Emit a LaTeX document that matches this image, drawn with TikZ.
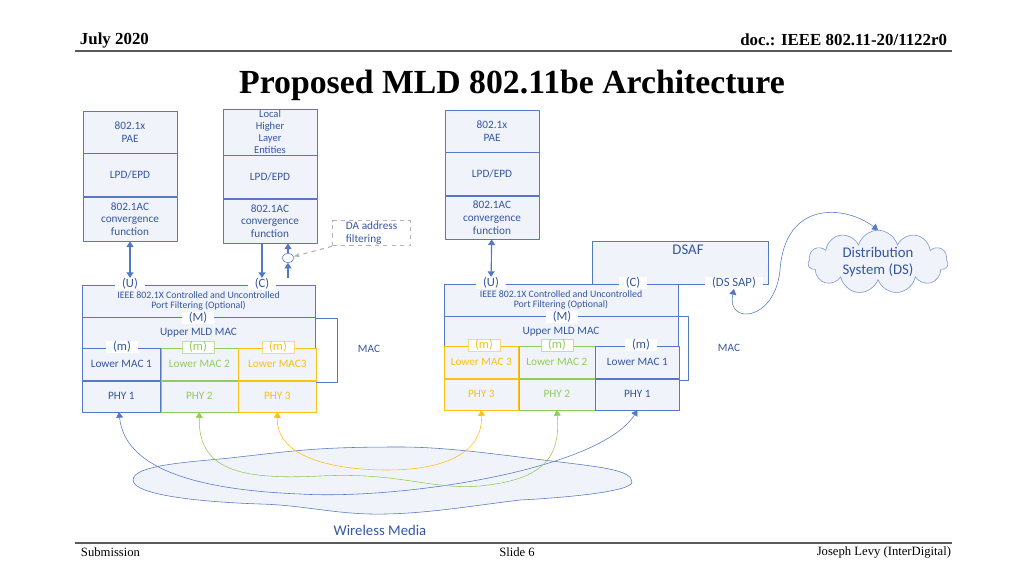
\documentclass[tikz,border=0pt]{standalone}
\usepackage{fontspec}
\setmainfont{Liberation Serif}
\newfontfamily\diag{Carlito}
\usetikzlibrary{arrows.meta,shapes.symbols,shapes.geometric,positioning}
\definecolor{mldblue}{RGB}{84,120,196}
\definecolor{txtblue}{RGB}{52,86,160}
\definecolor{mldgreen}{RGB}{146,204,90}
\definecolor{mldyellow}{RGB}{250,192,20}
\definecolor{cellfill}{RGB}{240,243,250}
\def\pw{0.025cm}
\tikzset{
  cell/.style={draw=mldblue, fill=cellfill, minimum width=94*\pw, align=center,
    text=txtblue, font=\diag\fontsize{8}{9}\selectfont, inner sep=1pt},
  tag/.style={fill=white, text=txtblue, font=\diag\fontsize{9}{9}\selectfont, inner ysep=0.2pt, inner xsep=5pt},
  link/.style={draw=mldblue, thick, {Triangle[width=5pt,length=4pt]}-{Triangle[width=5pt,length=4pt]}}
}
\begin{document}
\begin{tikzpicture}[x=0.025cm, y=-0.025cm, line join=round]
\useasboundingbox (0,0) rectangle (1024,576);

% header and footer
\node[anchor=west, font=\bfseries\fontsize{12}{14}\selectfont] (month) at (75,40) {July 2020};
\node[anchor=east, font=\bfseries\fontsize{12}{14}\selectfont] (doc) at (952,40) {doc.: IEEE 802.11-20/1122r0};
\draw[gray!70!black, line width=0.8pt] (75,51) -- (952,51);
\node[font=\bfseries\fontsize{24}{28}\selectfont] (title) at (512,85) {Proposed MLD 802.11be Architecture};
\draw[gray!70!black, line width=0.8pt] (75,543) -- (952,543);
\node[anchor=west, font=\fontsize{9}{10}\selectfont] (sub) at (76,552) {Submission};
\node[font=\fontsize{9}{10}\selectfont] (slide) at (517,552) {Slide 6};
\node[anchor=east, font=\fontsize{9}{10}\selectfont] (author) at (956,552) {Joseph Levy (InterDigital)};

% upper stacks
\node[cell, minimum height=42*\pw] (pae1) at (130,132) {802.1x\\PAE};
\node[cell, minimum height=43*\pw, below=0pt of pae1] (lpd1) {LPD/EPD};
\node[cell, minimum height=44*\pw, below=0pt of lpd1] (conv1) {802.1AC\\convergence\\function};
\node[cell, minimum height=42*\pw, font=\diag\fontsize{7.5}{8.5}\selectfont] (hle) at (270,132) {Local\\Higher\\Layer\\Entities};
\node[cell, minimum height=43*\pw, below=0pt of hle] (lpd2) {LPD/EPD};
\node[cell, minimum height=44*\pw, below=0pt of lpd2] (conv2) {802.1AC\\convergence\\function};
\node[cell, minimum height=42*\pw] (pae3) at (492,131) {802.1x\\PAE};
\node[cell, minimum height=43*\pw, below=0pt of pae3] (lpd3) {LPD/EPD};
\node[cell, minimum height=43*\pw, below=0pt of lpd3] (conv3) {802.1AC\\convergence\\function};

% DSAF
\draw[mldblue, fill=cellfill] (592,284) -- (592,241) -- (768,241) -- (768,284) -- (444,284);
\node[text=txtblue, font=\diag\fontsize{10.5}{11}\selectfont] (dsaf) at (688,250) {DSAF};

% left MLD
\node[cell, minimum width=233*\pw, minimum height=32*\pw] (port1) at (198.5,301) {};
\node[text=txtblue, align=center, font=\diag\fontsize{7}{7.2}\selectfont, inner sep=0pt] (pf1) at (198.5,301) {IEEE 802.1X Controlled and Uncontrolled\\Port Filtering (Optional)};
\node[cell, minimum width=233*\pw, minimum height=31*\pw, below=0pt of port1] (upper1) {Upper MLD MAC};
\node[cell, minimum width=78*\pw, minimum height=32*\pw, anchor=north west] (lm11) at (82,348) {Lower MAC 1};
\node[cell, minimum width=77*\pw, minimum height=32*\pw, right=0pt of lm11, draw=mldgreen, text=mldgreen] (lm12) {Lower MAC 2};
\node[cell, minimum width=78*\pw, minimum height=32*\pw, right=0pt of lm12, draw=mldyellow, text=mldyellow] (lm13) {Lower MAC3};
\node[cell, minimum width=78*\pw, minimum height=31*\pw, below=0pt of lm11] (phy11) {PHY 1};
\node[cell, minimum width=77*\pw, minimum height=31*\pw, below=0pt of lm12, draw=mldgreen, text=mldgreen] (phy12) {PHY 2};
\node[cell, minimum width=78*\pw, minimum height=31*\pw, below=0pt of lm13, draw=mldyellow, text=mldyellow] (phy13) {PHY 3};
\node[tag] (u1) at (130,284) {(U)};
\node[tag] (c1) at (262,284) {(C)};
\node[tag] (m1) at (198,318) {(M)};
\node[tag] (ml11) at (122,347) {(m)};
\node[tag, draw=mldgreen!60, text=mldgreen] (ml12) at (198,347) {(m)};
\node[tag, draw=mldyellow!60, text=mldyellow] (ml13) at (278,347) {(m)};
\draw[mldblue] (316,318) -- (337,318) -- (337,382) -- (316,382);
\node[text=txtblue, font=\diag\fontsize{8}{9}\selectfont] (mac1) at (369,349) {MAC};

% right MLD
\node[cell, minimum width=234*\pw, minimum height=32*\pw] (port3) at (561,300) {};
\node[text=txtblue, align=center, font=\diag\fontsize{7}{7.2}\selectfont, inner sep=0pt] (pf3) at (561,300) {IEEE 802.1X Controlled and Uncontrolled\\Port Filtering (Optional)};
\node[cell, minimum width=234*\pw, minimum height=30*\pw, below=0pt of port3] (upper3) {Upper MLD MAC};
\node[cell, minimum width=74*\pw, minimum height=32*\pw, anchor=north west, draw=mldyellow, text=mldyellow] (lm33) at (444,346) {Lower MAC 3};
\node[cell, minimum width=76*\pw, minimum height=32*\pw, right=0pt of lm33, draw=mldgreen, text=mldgreen] (lm32) {Lower MAC 2};
\node[cell, minimum width=84*\pw, minimum height=32*\pw, right=0pt of lm32] (lm31) {Lower MAC 1};
\node[cell, minimum width=74*\pw, minimum height=31*\pw, below=0pt of lm33, draw=mldyellow, text=mldyellow] (phy33) {PHY 3};
\node[cell, minimum width=76*\pw, minimum height=31*\pw, below=0pt of lm32, draw=mldgreen, text=mldgreen] (phy32) {PHY 2};
\node[cell, minimum width=84*\pw, minimum height=31*\pw, below=0pt of lm31] (phy31) {PHY 1};
\node[tag] (u3) at (491,283) {(U)};
\node[tag] (c3) at (633,283) {(C)};
\node[tag] (sap) at (734,283) {(DS SAP)};
\node[tag] (m3) at (562,317) {(M)};
\node[tag, draw=mldyellow!60, text=mldyellow] (ml33) at (484,345) {(m)};
\node[tag, draw=mldgreen!60, text=mldgreen] (ml32) at (557,345) {(m)};
\node[tag] (ml31) at (641,345) {(m)};
\draw[mldblue] (679,316) -- (688,316) -- (688,380) -- (679,380);
\node[text=txtblue, font=\diag\fontsize{8}{9}\selectfont] (mac3) at (729,348) {MAC};

% upper links
\draw[link] (conv1) -- (u1);
\draw[link, -{Triangle[width=5pt,length=4pt]}] (conv2.south -| c1) -- (c1);
\node[draw=mldblue, fill=white, ellipse, minimum width=12*\pw, minimum height=9*\pw, inner sep=0pt] (gate) at (288,258) {};
\draw[link, -{Triangle[width=5pt,length=4pt]}] (gate) -- (gate |- conv2.south);
\draw[link, -{Triangle[width=5pt,length=4pt]}] (gate |- c1.north) -- (gate);
\node[draw=gray!60, dashed, thick, text=txtblue, align=left, anchor=north west, font=\diag\fontsize{8}{9}\selectfont, minimum width=78*\pw, minimum height=25*\pw, inner sep=1pt] (da) at (332,220) {DA address\\filtering};
\draw[gray!60, dashed, thick, -{Stealth[length=4pt]}] (da.south west) -- (gate);
\draw[link] (conv3) -- (u3);

% distribution system
\node[cloud, cloud puffs=11, aspect=2.6, draw=mldblue!80, fill=cellfill, text=txtblue, align=center, font=\diag\fontsize{10.5}{12}\selectfont, minimum width=140*\pw, minimum height=58*\pw, inner sep=0pt] (ds) at (878,262) {Distribution\\System (DS)};
\draw[mldblue, {Triangle[width=5pt,length=4pt]}-{Triangle[width=5pt,length=4pt]}] (sap.south) .. controls (726,325) and (775,322) .. (780,270) .. controls (785,200) and (845,205) .. (ds.north);

% wireless media
\path[draw=mldblue, fill=cellfill] (133,480) .. controls (133,465) and (190,462) .. (230,458)
  .. controls (300,450) and (320,447) .. (400,447)
  .. controls (450,447) and (500,455) .. (560,462)
  .. controls (600,467) and (632,470) .. (632,482)
  .. controls (632,492) and (560,498) .. (520,500)
  .. controls (470,506) and (420,515) .. (370,514)
  .. controls (330,513) and (300,505) .. (260,504)
  .. controls (200,502) and (133,495) .. (133,480) -- cycle;
\node[text=txtblue, font=\diag\fontsize{10.5}{12}\selectfont] (wm) at (380,530) {Wireless Media};
\draw[mldblue, {Triangle[width=5pt,length=4pt]}-{Triangle[width=5pt,length=4pt]}] (phy11.south west) ++(37,0) coordinate (b1)
  (b1) .. controls (125,470) and (200,490) .. (300,494) .. controls (400,500) and (600,470) .. (phy31.south);
\draw[mldgreen, {Triangle[width=5pt,length=4pt]}-{Triangle[width=5pt,length=4pt]}] (phy12.south)
  .. controls (198,470) and (240,480) .. (320,476) .. controls (400,472) and (430,490) .. (480,486) .. controls (540,480) and (561,460) .. (phy32.south);
\draw[mldyellow, {Triangle[width=5pt,length=4pt]}-{Triangle[width=5pt,length=4pt]}] (phy13.south)
  .. controls (276,460) and (340,470) .. (387,470) .. controls (450,470) and (483,450) .. (phy33.south);
\end{tikzpicture}
\end{document}
